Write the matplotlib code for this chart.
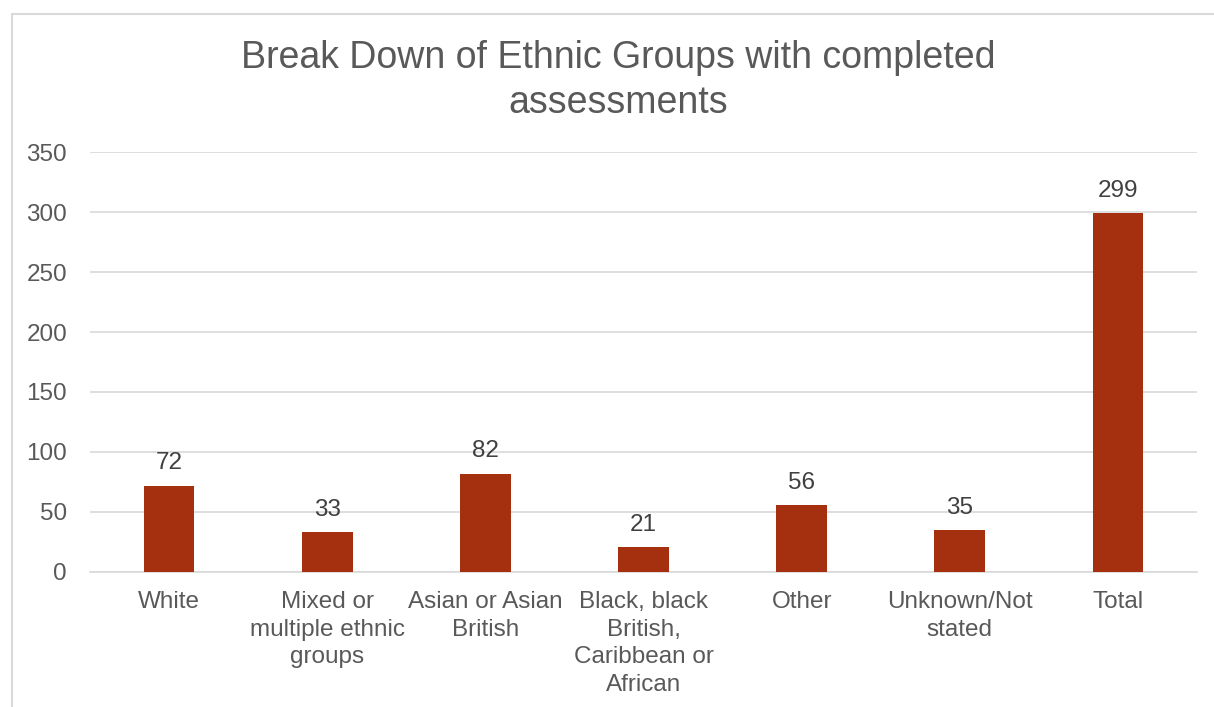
import matplotlib.pyplot as plt
from matplotlib.patches import Rectangle

categories = ["White", "Mixed or\nmultiple ethnic\ngroups", "Asian or Asian\nBritish",
              "Black, black\nBritish,\nCaribbean or\nAfrican", "Other", "Unknown/Not\nstated", "Total"]
values = [72, 33, 82, 21, 56, 35, 299]
yticks = [0, 50, 100, 150, 200, 250, 300, 350]
title = "Break Down of Ethnic Groups with completed\nassessments"

plt.rcParams['font.family'] = ['Liberation Sans', 'DejaVu Sans']
W, H = 1214, 707
fig = plt.figure(figsize=(W / 100, H / 100), dpi=100)
ax = fig.add_axes([90 / W, (H - 572) / H, (1197 - 90) / W, (572 - 152) / H])

bar_color = "#A5300F"
grid_color = "#D9D9D9"
text_color = "#595959"
fs = 17.5

x = list(range(len(categories)))
bars = ax.bar(x, values, width=0.32, color=bar_color, zorder=3)
for xi, v in zip(x, values):
    ax.annotate(str(v), (xi, v), xytext=(0, 8), textcoords="offset points",
                ha="center", va="bottom", fontsize=fs, color="#404040")

ax.set_xlim(-0.5, len(categories) - 0.5)
ax.set_ylim(0, 350)
ax.set_yticks(yticks)
ax.set_yticklabels([str(t) for t in yticks], fontsize=fs, color=text_color)
ax.set_xticks(x)
ax.set_xticklabels(categories, fontsize=fs, color=text_color, linespacing=1.34, va="top")
ax.tick_params(axis="both", length=0)
ax.tick_params(axis="y", pad=16.5)
ax.tick_params(axis="x", pad=13.5)
ax.yaxis.grid(True, color=grid_color, linewidth=1.2, zorder=0)
ax.set_axisbelow(True)
for s in ["top", "right", "left"]:
    ax.spines[s].set_visible(False)
ax.spines["bottom"].set_color(grid_color)
ax.spines["bottom"].set_linewidth(1.2)

fig.text(618 / W, 1 - 80.5 / H, title, ha="center", va="center", fontsize=27,
         color=text_color, linespacing=1.33)

fig.patches.append(Rectangle((11.5 / W, -0.1), 1.2, (H - 13.5) / H + 0.1,
                             transform=fig.transFigure, fill=False,
                             edgecolor=grid_color, linewidth=1.5))

fig.savefig("out.png", dpi=100)
